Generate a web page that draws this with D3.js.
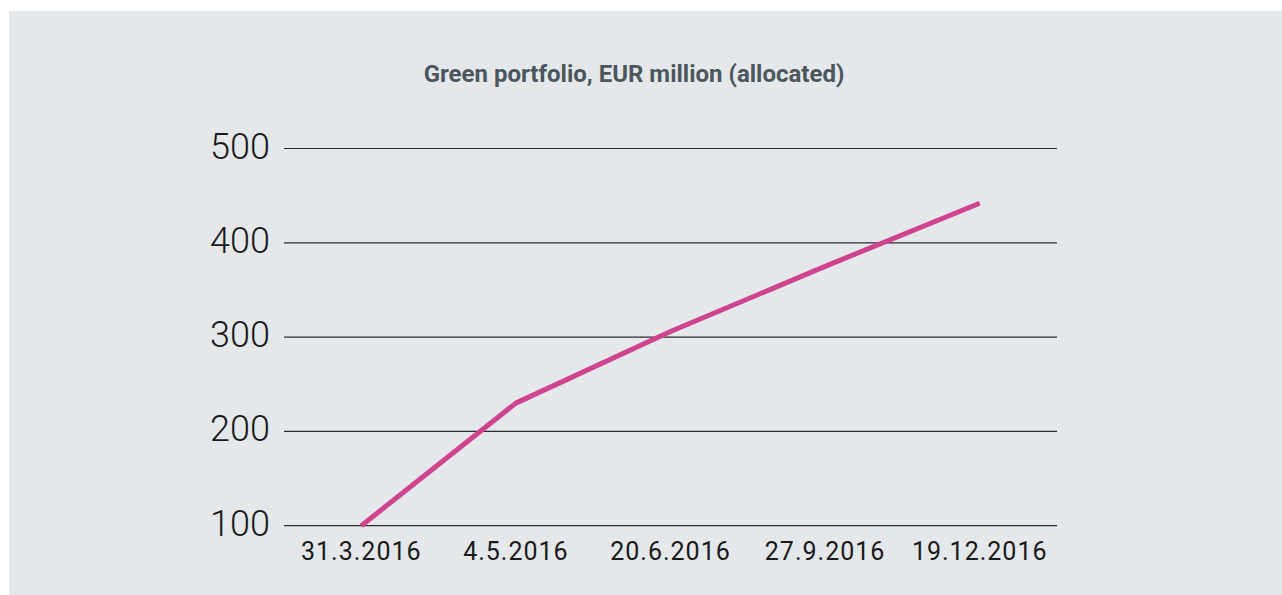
<!DOCTYPE html>
<html>
<head>
<meta charset="utf-8">
<script src="https://cdn.jsdelivr.net/npm/d3@7"></script>
<style>
  body { margin: 0; background: #ffffff; }
  svg { display: block; }
</style>
</head>
<body>
<div id="chart"></div>
<script>
// Data
const dates = ['31.3.2016', '4.5.2016', '20.6.2016', '27.9.2016', '19.12.2016'];
const values = [100, 230, 306, 375, 442];
const yTicks = [100, 200, 300, 400, 500];
const title = 'Green portfolio, EUR million (allocated)';

// Dimensions
const width = 1282, height = 595;
const plot = { left: 284, right: 1057, top: 148.5, bottom: 525.7 };

const svg = d3.select('#chart')
    .append('svg')
    .attr('width', width)
    .attr('height', height);

// Background panel
svg.append('rect')
    .attr('x', 9)
    .attr('y', 11)
    .attr('width', width - 9)
    .attr('height', height - 11)
    .attr('fill', '#e4e8eb');

// Title
svg.append('text')
    .attr('x', 634)
    .attr('y', 82)
    .attr('text-anchor', 'middle')
    .attr('font-family', 'Roboto, sans-serif')
    .attr('font-weight', 700)
    .attr('font-size', 24)
    .attr('fill', '#4b565d')
    .text(title);

// Scales
const xScale = d3.scalePoint()
    .domain(dates)
    .range([plot.left, plot.right])
    .padding(0.5);

const yScale = d3.scaleLinear()
    .domain([100, 500])
    .range([plot.bottom, plot.top]);

// Grid lines
svg.append('g')
    .selectAll('line')
    .data(yTicks)
    .join('line')
        .attr('x1', plot.left)
        .attr('x2', plot.right)
        .attr('y1', d => yScale(d))
        .attr('y2', d => yScale(d))
        .attr('stroke', '#2b2b2b')
        .attr('stroke-width', 1.2);

// Y labels
svg.append('g')
    .selectAll('text')
    .data(yTicks)
    .join('text')
        .attr('x', 270)
        .attr('y', d => yScale(d) + 10)
        .attr('text-anchor', 'end')
        .attr('font-family', 'Roboto, sans-serif')
        .attr('font-weight', 300)
        .attr('font-size', 36)
        .attr('fill', '#1a1a1a')
        .text(d => d);

// X labels
svg.append('g')
    .selectAll('text')
    .data(dates)
    .join('text')
        .attr('x', d => xScale(d))
        .attr('y', plot.bottom + 34)
        .attr('text-anchor', 'middle')
        .attr('font-family', 'Roboto, sans-serif')
        .attr('font-size', 25)
        .attr('letter-spacing', 1)
        .attr('fill', '#1a1a1a')
        .text(d => d);

// Line
const line = d3.line()
    .x((d, i) => xScale(dates[i]))
    .y(d => yScale(d));

svg.append('path')
    .datum(values)
    .attr('fill', 'none')
    .attr('stroke', '#d0448f')
    .attr('stroke-width', 5)
    .attr('stroke-linejoin', 'round')
    .attr('d', line);
</script>
</body>
</html>
